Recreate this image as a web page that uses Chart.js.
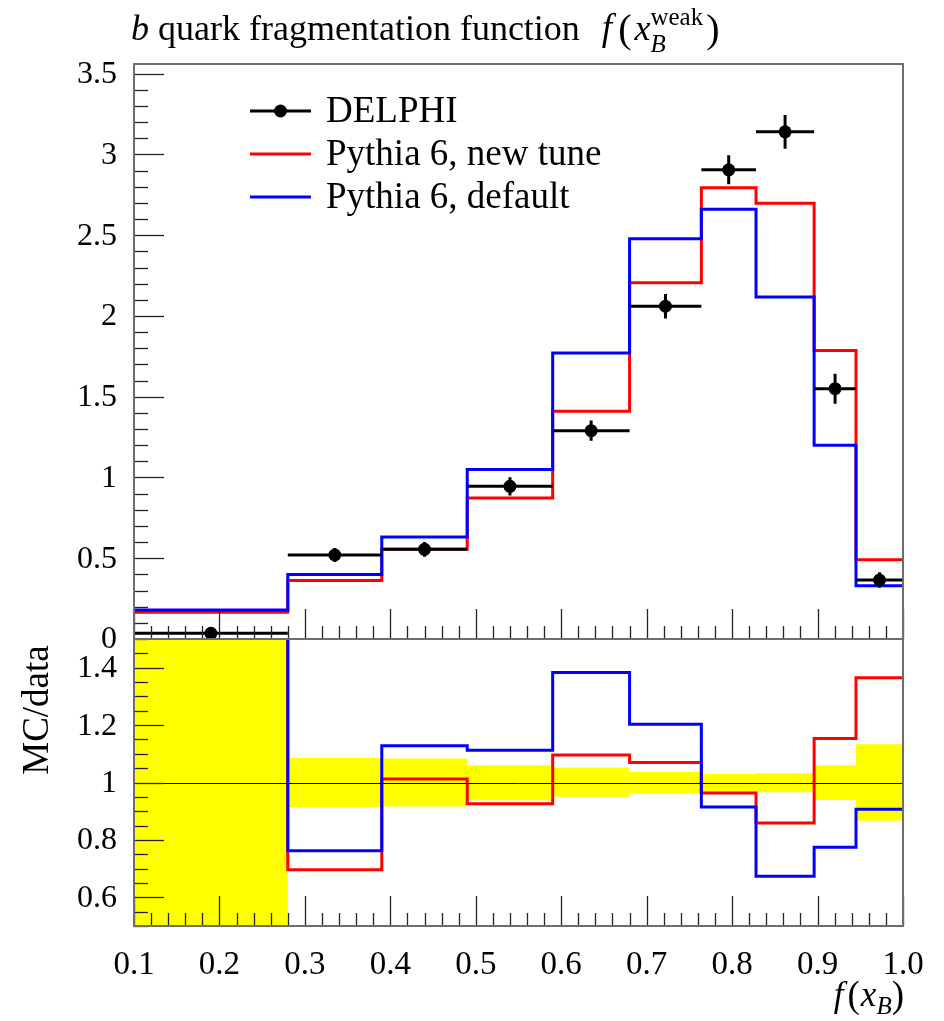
<!DOCTYPE html>
<html><head><meta charset="utf-8">
<script src="https://cdn.jsdelivr.net/npm/chart.js@4.4.1/dist/chart.umd.min.js"></script>
<style>
html,body{margin:0;padding:0;background:#fff;}
#wrap{position:relative;width:944px;height:1021px;background:#fff;}
canvas{position:absolute;left:0;top:0;}
</style></head><body>
<div id="wrap"><canvas id="cTop" width="944" height="1021"></canvas><canvas id="cBot" width="944" height="1021"></canvas></div>
<script>
// ---- data ----
const binEdges = [0.1, 0.28, 0.39, 0.49, 0.59, 0.68, 0.764, 0.828, 0.896, 0.945, 1.0];
const delphiValues = [0.035, 0.52, 0.555, 0.945, 1.29, 2.06, 2.905, 3.14, 1.55, 0.365];
const delphiErrors = [0.02, 0.044, 0.046, 0.057, 0.063, 0.076, 0.09, 0.105, 0.093, 0.048];
const newTuneValues = [0.165, 0.362, 0.555, 0.873, 1.41, 2.205, 2.794, 2.698, 1.786, 0.49];
const defaultValues = [0.18, 0.40, 0.632, 1.05, 1.771, 2.478, 2.66, 2.118, 1.20, 0.33];
const newTuneRatio = [4.7, 0.696, 1.012, 0.926, 1.096, 1.070, 0.963, 0.859, 1.153, 1.365];
const defaultRatio = [5.1, 0.762, 1.128, 1.112, 1.383, 1.203, 0.915, 0.673, 0.774, 0.907];
const bandLow = [0.15, 0.915, 0.916, 0.938, 0.950, 0.963, 0.966, 0.966, 0.939, 0.867];
const bandHigh = [1.85, 1.085, 1.084, 1.060, 1.051, 1.037, 1.030, 1.032, 1.060, 1.133];
const xTickLabels = ['0.1','0.2','0.3','0.4','0.5','0.6','0.7','0.8','0.9','1.0'];
const yTickLabels = ['0','0.5','1','1.5','2','2.5','3','3.5'];
const ratioTickLabels = ['0.6','0.8','1','1.2','1.4'];
const seriesNames = ['DELPHI', 'Pythia 6, new tune', 'Pythia 6, default'];

// ---- layout / style ----
const W = 944, H = 1021;
const L = 134, R = 903, T = 64, M = 639, B = 926;
const FONT = '"Liberation Serif", "Times New Roman", serif';
const RED = '#ff0000', BLUE = '#0000ff', YEL = '#ffff00';
const FRAME = '#6e6e6e', TICK = '#222';

function histPoints(vals) {
  const pts = [];
  vals.forEach((v, i) => { pts.push({x: binEdges[i], y: v}); pts.push({x: binEdges[i + 1], y: v}); });
  return pts;
}
const centers = delphiValues.map((v, i) => (binEdges[i] + binEdges[i + 1]) / 2);
const hErr = [], vErr = [];
delphiValues.forEach((v, i) => {
  hErr.push({x: binEdges[i], y: v}, {x: binEdges[i + 1], y: v}, {x: binEdges[i + 1], y: null});
  vErr.push({x: centers[i], y: v - delphiErrors[i]}, {x: centers[i], y: v + delphiErrors[i]}, {x: centers[i], y: null});
});

function lineDs(data, color, order, extra) {
  return Object.assign({data, showLine: true, borderColor: color, borderWidth: 3, pointRadius: 0,
    borderJoinStyle: 'miter', borderCapStyle: 'butt', spanGaps: false, fill: false, tension: 0, order}, extra || {});
}

function drawYTicks(ctx, ys, min, max, step, majorEvery, y0) {
  ctx.save(); ctx.strokeStyle = TICK; ctx.lineWidth = 1.3;
  const n = Math.round((max - min) / step);
  for (let k = 0; k <= n; k++) {
    const v = min + k * step;
    const major = Math.abs(((v - y0) / majorEvery) - Math.round((v - y0) / majorEvery)) < 1e-6;
    const py = Math.round(ys.getPixelForValue(v)) + 0.5;
    ctx.beginPath(); ctx.moveTo(L, py); ctx.lineTo(L + (major ? 30 : 14), py); ctx.stroke();
  }
  ctx.restore();
}
function drawXTicks(ctx, xs, yBase) {
  ctx.save(); ctx.strokeStyle = TICK; ctx.lineWidth = 1.3;
  for (let k = 0; k <= 45; k++) {
    const v = 0.1 + k * 0.02;
    const major = k % 5 === 0;
    const px = Math.round(xs.getPixelForValue(v)) + 0.5;
    ctx.beginPath(); ctx.moveTo(px, yBase); ctx.lineTo(px, yBase - (major ? 30 : 13)); ctx.stroke();
  }
  ctx.restore();
}
// rich text: parts = [text, style, size, dy, gapAfter]
function drawRich(ctx, parts, x, y, align) {
  const widths = parts.map(p => { ctx.font = p[1] + ' ' + p[2] + 'px ' + FONT; return ctx.measureText(p[0]).width + (p[4] || 0); });
  const total = widths.reduce((a, b) => a + b, 0);
  let cx = align === 'right' ? x - total : x;
  parts.forEach((p, i) => {
    ctx.font = p[1] + ' ' + p[2] + 'px ' + FONT;
    ctx.fillText(p[0], cx, y + p[3]);
    cx += widths[i];
  });
}

const topPlugin = {
  id: 'topDecor',
  afterDatasetsDraw(chart) {
    const ctx = chart.ctx, xs = chart.scales.x, ys = chart.scales.y;
    ctx.save();
    drawYTicks(ctx, ys, 0, 3.5, 0.1, 0.5, 0);
    drawXTicks(ctx, xs, M);
    ctx.strokeStyle = FRAME; ctx.lineWidth = 2;
    ctx.strokeRect(L, T, R - L, M - T);
    // y labels
    ctx.fillStyle = '#000'; ctx.font = '32px ' + FONT; ctx.textAlign = 'right'; ctx.textBaseline = 'middle';
    yTickLabels.forEach(t => ctx.fillText(t, 117, ys.getPixelForValue(parseFloat(t)) + 1));
    // title
    ctx.textAlign = 'left'; ctx.textBaseline = 'alphabetic';
    let x = 131; const by = 40;
    const seg = (txt, st, sz, dy) => { ctx.font = st + ' ' + sz + 'px ' + FONT; ctx.fillText(txt, x, by + dy); return ctx.measureText(txt).width; };
    x += seg('b', 'italic', 36, 0);
    x += seg(' quark fragmentation function', 'normal', 36, 0) + 22;
    x += seg('f', 'italic', 37, 0) + 6;
    x += seg('(', 'normal', 40, 2) + 3;
    x += seg('x', 'italic', 36, 0);
    const w1 = seg('B', 'italic', 25, 12);
    const w2 = seg('weak', 'normal', 25, -15);
    x += Math.max(w1, w2) + 3;
    seg(')', 'normal', 40, 2);
    // legend
    const ly = [111, 154, 197];
    ctx.lineCap = 'butt'; ctx.lineWidth = 3;
    ctx.strokeStyle = '#000'; ctx.beginPath(); ctx.moveTo(250, ly[0]); ctx.lineTo(311, ly[0]); ctx.stroke();
    ctx.fillStyle = '#000'; ctx.beginPath(); ctx.arc(280.5, ly[0], 6.5, 0, Math.PI * 2); ctx.fill();
    ctx.strokeStyle = RED; ctx.beginPath(); ctx.moveTo(250, ly[1]); ctx.lineTo(311, ly[1]); ctx.stroke();
    ctx.strokeStyle = BLUE; ctx.beginPath(); ctx.moveTo(250, ly[2]); ctx.lineTo(311, ly[2]); ctx.stroke();
    ctx.fillStyle = '#000'; ctx.font = '37px ' + FONT; ctx.textBaseline = 'middle';
    seriesNames.forEach((s, i) => ctx.fillText(s, 326, ly[i] + 1));
    ctx.restore();
  }
};

const botPlugin = {
  id: 'botDecor',
  afterDatasetsDraw(chart) {
    const ctx = chart.ctx, xs = chart.scales.x, ys = chart.scales.y;
    ctx.save();
    // unity line
    ctx.strokeStyle = '#000'; ctx.lineWidth = 1;
    const y1 = Math.round(ys.getPixelForValue(1)) + 0.5;
    ctx.beginPath(); ctx.moveTo(L, y1); ctx.lineTo(R, y1); ctx.stroke();
    drawYTicks(ctx, ys, 0.5, 1.5, 0.05, 0.2, 0.6);
    drawXTicks(ctx, xs, B);
    ctx.strokeStyle = FRAME; ctx.lineWidth = 2;
    ctx.strokeRect(L, M, R - L, B - M);
    ctx.fillStyle = '#000'; ctx.font = '32px ' + FONT; ctx.textAlign = 'right'; ctx.textBaseline = 'middle';
    ratioTickLabels.forEach(t => ctx.fillText(t, 117, ys.getPixelForValue(parseFloat(t)) + 1));
    ctx.font = '33px ' + FONT;
    ctx.textAlign = 'center'; ctx.textBaseline = 'alphabetic';
    xTickLabels.forEach(t => ctx.fillText(t, xs.getPixelForValue(parseFloat(t)), 974));
    // x title f(x_B)
    ctx.textAlign = 'left';
    drawRich(ctx, [['f', 'italic', 35, 0, 4], ['(', 'normal', 37, 1, 1], ['x', 'italic', 35, 0], ['B', 'italic', 25, 8], [')', 'normal', 37, 1]], 904, 1006, 'right');
    // y title
    ctx.translate(48, 710); ctx.rotate(-Math.PI / 2);
    ctx.textAlign = 'center'; ctx.font = '37px ' + FONT;
    ctx.fillText('MC/data', 0, 0);
    ctx.restore();
  }
};

const common = {
  responsive: false, animation: false, devicePixelRatio: 1, events: [],
  plugins: {legend: {display: false}, tooltip: {enabled: false}}
};

new Chart(document.getElementById('cTop'), {
  type: 'scatter',
  data: {datasets: [
    {label: seriesNames[0], data: centers.map((c, i) => ({x: c, y: delphiValues[i]})), showLine: false,
      pointRadius: 6.5, pointBackgroundColor: '#000', pointBorderWidth: 0, order: 0, clip: false},
    lineDs(hErr, '#000', 0),
    lineDs(vErr, '#000', 0),
    lineDs(histPoints(defaultValues), BLUE, 2, {label: seriesNames[2]}),
    lineDs(histPoints(newTuneValues), RED, 3, {label: seriesNames[1]})
  ]},
  options: Object.assign({}, common, {
    layout: {padding: {left: L, right: W - R, top: T, bottom: H - M}},
    scales: {
      x: {type: 'linear', min: 0.1, max: 1.0, display: false},
      y: {type: 'linear', min: 0, max: 3.56, display: false}
    }
  }),
  plugins: [topPlugin]
});

new Chart(document.getElementById('cBot'), {
  type: 'scatter',
  data: {datasets: [
    lineDs(histPoints(bandLow), 'rgba(0,0,0,0)', 5, {borderWidth: 0}),
    lineDs(histPoints(bandHigh), 'rgba(0,0,0,0)', 4, {borderWidth: 0, fill: '-1', backgroundColor: YEL}),
    lineDs(histPoints(newTuneRatio), RED, 3),
    lineDs(histPoints(defaultRatio), BLUE, 2)
  ]},
  options: Object.assign({}, common, {
    layout: {padding: {left: L, right: W - R, top: M, bottom: H - B}},
    scales: {
      x: {type: 'linear', min: 0.1, max: 1.0, display: false},
      y: {type: 'linear', min: 0.5, max: 1.5, display: false}
    }
  }),
  plugins: [botPlugin]
});
</script>
</body></html>
